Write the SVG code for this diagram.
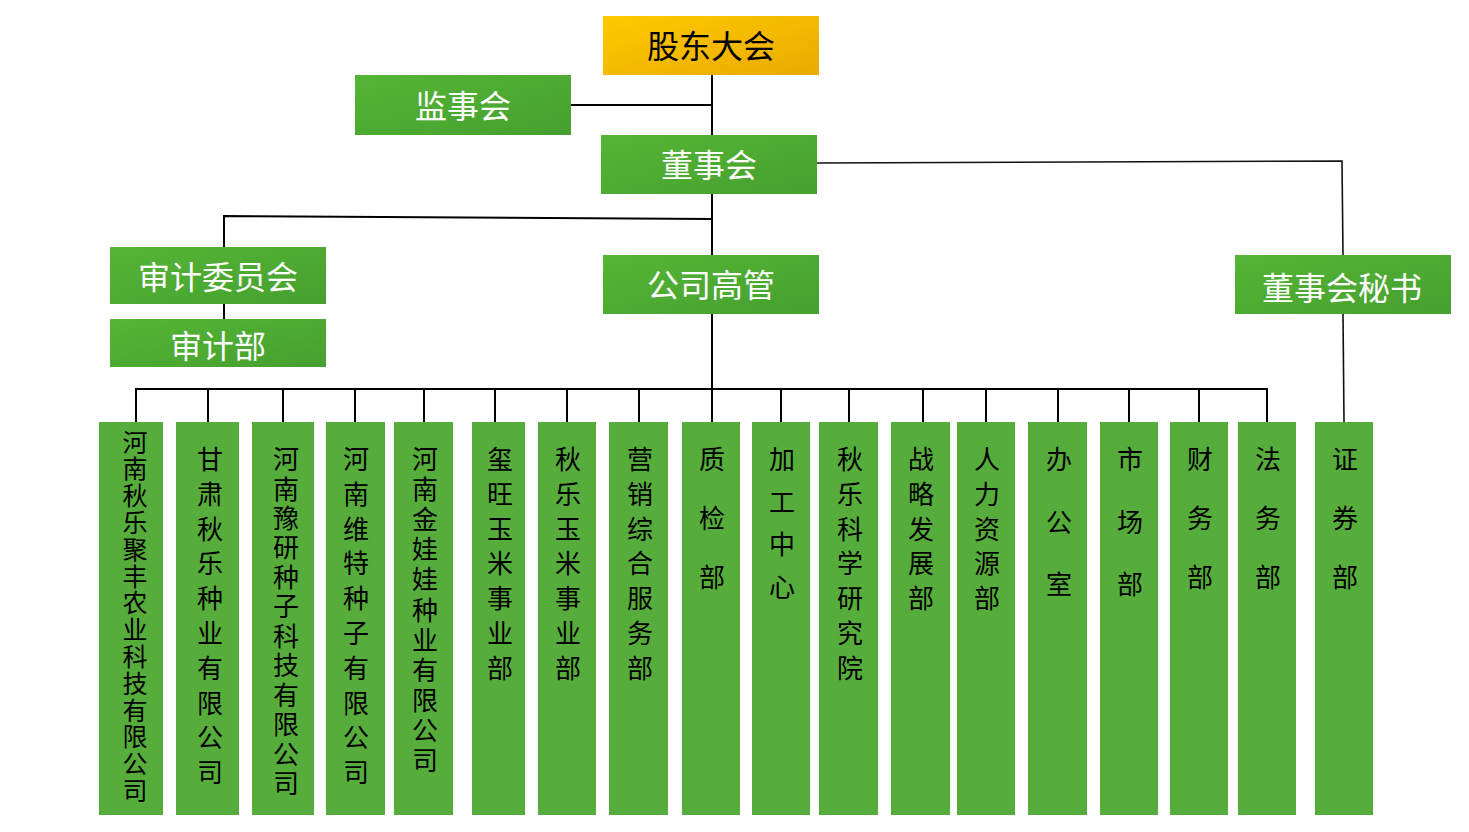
<svg xmlns="http://www.w3.org/2000/svg" width="1469" height="832" viewBox="0 0 1469 832">
<defs>
<linearGradient id="gGreen" x1="0" y1="0" x2="1" y2="1">
<stop offset="0" stop-color="#55B536"/>
<stop offset="1" stop-color="#45A02E"/>
</linearGradient>
<linearGradient id="gGold" x1="0" y1="0" x2="1" y2="1">
<stop offset="0" stop-color="#FFCA00"/>
<stop offset="1" stop-color="#EAAA00"/>
</linearGradient>
<style>
.top{fill:url(#gGreen)}
.gold{fill:url(#gGold)}
.col{fill:#57AD3C}
.lt{font-family:"Noto Sans CJK SC","Noto Sans",sans-serif;font-size:32px;text-anchor:middle;dominant-baseline:central}
.w{fill:#FFFFFF}
.k{fill:#000000}
.ct{font-family:"Noto Sans CJK SC","Noto Sans",sans-serif;font-size:26px;fill:#000000;text-anchor:middle;dominant-baseline:central}
.sm{font-size:25px}
.ln{stroke:#000000;stroke-width:2;fill:none}
.ln2{stroke:#111111;stroke-width:1.6;fill:none}
</style>
</defs>
<rect width="1469" height="832" fill="#FFFFFF"/>
<g id="connectors">
<path class="ln" d="M712,75 V389"/>
<path class="ln" d="M571,105 H712"/>
<path class="ln2" d="M817,163 L1342,161 L1343,255"/>
<path class="ln2" d="M1343,314 L1344,422"/>
<path class="ln" d="M712,219 L224,216 V247"/>
<path class="ln" d="M224,304 V319"/>
<path class="ln" d="M136,422 V389 H1267 V422"/>
<path class="ln" d="M208,389 V422 M283,389 V422 M355,389 V422 M424,389 V422 M495,389 V422 M567,389 V422 M639,389 V422 M712,389 V422 M781,389 V422 M849,389 V422 M923,389 V422 M986,389 V422 M1058,389 V422 M1129,389 V422 M1199,389 V422"/>
</g>
<g id="n-gudong"><rect class="gold" x="603" y="16" width="216" height="59"/><text class="lt k" x="711" y="44">股东大会</text></g>
<g id="n-jianshi"><rect class="top" x="355" y="75" width="216" height="60"/><text class="lt w" x="463" y="104">监事会</text></g>
<g id="n-dongshi"><rect class="top" x="601" y="135" width="216" height="59"/><text class="lt w" x="709" y="163">董事会</text></g>
<g id="n-shenjiwy"><rect class="top" x="110" y="247" width="216" height="57"/><text class="lt w" x="218" y="275">审计委员会</text></g>
<g id="n-shenjibu"><rect class="top" x="110" y="319" width="216" height="48"/><text class="lt w" x="218" y="344">审计部</text></g>
<g id="n-gaoguan"><rect class="top" x="603" y="255" width="216" height="59"/><text class="lt w" x="711" y="283">公司高管</text></g>
<g id="n-mishu"><rect class="top" x="1235" y="255" width="216" height="59"/><text class="lt w" x="1342" y="286">董事会秘书</text></g>

<g id="c1"><rect class="col" x="99" y="422" width="64" height="393"/><text class="ct sm" transform="translate(0,-2)"><tspan x="135" y="442.5">河</tspan><tspan x="135" y="469.3">南</tspan><tspan x="135" y="496.1">秋</tspan><tspan x="135" y="522.9">乐</tspan><tspan x="135" y="549.7">聚</tspan><tspan x="135" y="576.5">丰</tspan><tspan x="135" y="603.3">农</tspan><tspan x="135" y="630.1">业</tspan><tspan x="135" y="656.9">科</tspan><tspan x="135" y="683.7">技</tspan><tspan x="135" y="710.5">有</tspan><tspan x="135" y="737.3">限</tspan><tspan x="135" y="764.1">公</tspan><tspan x="135" y="790.9">司</tspan></text></g>
<g id="c2"><rect class="col" x="176" y="422" width="63" height="393"/><text class="ct" transform="translate(0,-2)"><tspan x="210" y="459">甘</tspan><tspan x="210" y="493.8">肃</tspan><tspan x="210" y="528.6">秋</tspan><tspan x="210" y="563.4">乐</tspan><tspan x="210" y="598.2">种</tspan><tspan x="210" y="633">业</tspan><tspan x="210" y="667.8">有</tspan><tspan x="210" y="702.6">限</tspan><tspan x="210" y="737.4">公</tspan><tspan x="210" y="772.2">司</tspan></text></g>
<g id="c3"><rect class="col" x="252" y="422" width="62" height="393"/><text class="ct" transform="translate(0,-2)"><tspan x="286" y="459">河</tspan><tspan x="286" y="488.5">南</tspan><tspan x="286" y="517.9">豫</tspan><tspan x="286" y="547.4">研</tspan><tspan x="286" y="576.8">种</tspan><tspan x="286" y="606.3">子</tspan><tspan x="286" y="635.7">科</tspan><tspan x="286" y="665.2">技</tspan><tspan x="286" y="694.6">有</tspan><tspan x="286" y="724.1">限</tspan><tspan x="286" y="753.5">公</tspan><tspan x="286" y="783">司</tspan></text></g>
<g id="c4"><rect class="col" x="326" y="422" width="59" height="393"/><text class="ct" transform="translate(0,-2)"><tspan x="356" y="459">河</tspan><tspan x="356" y="493.8">南</tspan><tspan x="356" y="528.6">维</tspan><tspan x="356" y="563.4">特</tspan><tspan x="356" y="598.2">种</tspan><tspan x="356" y="633">子</tspan><tspan x="356" y="667.8">有</tspan><tspan x="356" y="702.6">限</tspan><tspan x="356" y="737.4">公</tspan><tspan x="356" y="772.2">司</tspan></text></g>
<g id="c5"><rect class="col" x="394" y="422" width="59" height="393"/><text class="ct" transform="translate(0,-2)"><tspan x="425" y="459">河</tspan><tspan x="425" y="489.1">南</tspan><tspan x="425" y="519.2">金</tspan><tspan x="425" y="549.3">娃</tspan><tspan x="425" y="579.4">娃</tspan><tspan x="425" y="609.5">种</tspan><tspan x="425" y="639.6">业</tspan><tspan x="425" y="669.7">有</tspan><tspan x="425" y="699.8">限</tspan><tspan x="425" y="729.9">公</tspan><tspan x="425" y="760">司</tspan></text></g>
<g id="c6"><rect class="col" x="472" y="422" width="53" height="393"/><text class="ct" transform="translate(0,-2)"><tspan x="500" y="459">玺</tspan><tspan x="500" y="493.8">旺</tspan><tspan x="500" y="528.6">玉</tspan><tspan x="500" y="563.4">米</tspan><tspan x="500" y="598.2">事</tspan><tspan x="500" y="633">业</tspan><tspan x="500" y="667.8">部</tspan></text></g>
<g id="c7"><rect class="col" x="538" y="422" width="58" height="393"/><text class="ct" transform="translate(0,-2)"><tspan x="568" y="459">秋</tspan><tspan x="568" y="493.8">乐</tspan><tspan x="568" y="528.6">玉</tspan><tspan x="568" y="563.4">米</tspan><tspan x="568" y="598.2">事</tspan><tspan x="568" y="633">业</tspan><tspan x="568" y="667.8">部</tspan></text></g>
<g id="c8"><rect class="col" x="609" y="422" width="59" height="393"/><text class="ct" transform="translate(0,-2)"><tspan x="640" y="459">营</tspan><tspan x="640" y="493.8">销</tspan><tspan x="640" y="528.6">综</tspan><tspan x="640" y="563.4">合</tspan><tspan x="640" y="598.2">服</tspan><tspan x="640" y="633">务</tspan><tspan x="640" y="667.8">部</tspan></text></g>
<g id="c9"><rect class="col" x="682" y="422" width="58" height="393"/><text class="ct" transform="translate(0,-2)"><tspan x="712" y="459">质</tspan><tspan x="712" y="518">检</tspan><tspan x="712" y="577">部</tspan></text></g>
<g id="c10"><rect class="col" x="752" y="422" width="58" height="393"/><text class="ct" transform="translate(0,-2)"><tspan x="782" y="459">加</tspan><tspan x="782" y="501.5">工</tspan><tspan x="782" y="544">中</tspan><tspan x="782" y="587">心</tspan></text></g>
<g id="c11"><rect class="col" x="819" y="422" width="59" height="393"/><text class="ct" transform="translate(0,-2)"><tspan x="850" y="459">秋</tspan><tspan x="850" y="493.8">乐</tspan><tspan x="850" y="528.6">科</tspan><tspan x="850" y="563.4">学</tspan><tspan x="850" y="598.2">研</tspan><tspan x="850" y="633">究</tspan><tspan x="850" y="667.8">院</tspan></text></g>
<g id="c12"><rect class="col" x="891" y="422" width="59" height="393"/><text class="ct" transform="translate(0,-2)"><tspan x="921" y="459">战</tspan><tspan x="921" y="493.8">略</tspan><tspan x="921" y="528.6">发</tspan><tspan x="921" y="563.4">展</tspan><tspan x="921" y="598.2">部</tspan></text></g>
<g id="c13"><rect class="col" x="957" y="422" width="58" height="393"/><text class="ct" transform="translate(0,-2)"><tspan x="987" y="459">人</tspan><tspan x="987" y="493.8">力</tspan><tspan x="987" y="528.6">资</tspan><tspan x="987" y="563.4">源</tspan><tspan x="987" y="598.2">部</tspan></text></g>
<g id="c14"><rect class="col" x="1028" y="422" width="59" height="393"/><text class="ct" transform="translate(0,-2)"><tspan x="1059" y="459">办</tspan><tspan x="1059" y="521.5">公</tspan><tspan x="1059" y="584">室</tspan></text></g>
<g id="c15"><rect class="col" x="1100" y="422" width="58" height="393"/><text class="ct" transform="translate(0,-2)"><tspan x="1130" y="459">市</tspan><tspan x="1130" y="521.5">场</tspan><tspan x="1130" y="584">部</tspan></text></g>
<g id="c16"><rect class="col" x="1170" y="422" width="58" height="393"/><text class="ct" transform="translate(0,-2)"><tspan x="1200" y="459">财</tspan><tspan x="1200" y="518">务</tspan><tspan x="1200" y="577">部</tspan></text></g>
<g id="c17"><rect class="col" x="1238" y="422" width="58" height="393"/><text class="ct" transform="translate(0,-2)"><tspan x="1268" y="459">法</tspan><tspan x="1268" y="518">务</tspan><tspan x="1268" y="577">部</tspan></text></g>
<g id="c18"><rect class="col" x="1315" y="422" width="58" height="393"/><text class="ct" transform="translate(0,-2)"><tspan x="1345" y="459">证</tspan><tspan x="1345" y="518">券</tspan><tspan x="1345" y="577">部</tspan></text></g>
</svg>
